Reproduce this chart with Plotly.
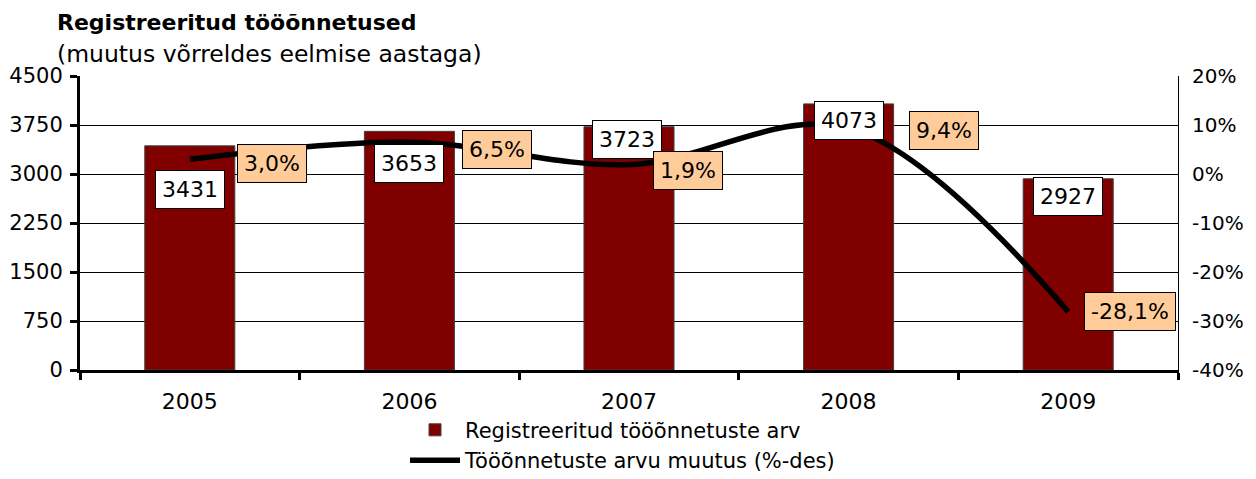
import plotly.graph_objects as go

years = ["2005", "2006", "2007", "2008", "2009"]
accidents = [3431, 3653, 3723, 4073, 2927]
change_pct = [3.0, 6.5, 1.9, 9.4, -28.1]
pct_ticks = [-40, -30, -20, -10, 0, 10, 20]
pct_tick_labels = ["-40%", "-30%", "-20%", "-10%", "0%", "10%", "20%"]

# label offsets in pixels (count labels, % labels)
count_shift = [(0, -44), (0, -32), (-2, -13), (0, -17), (0, -18)]
pct_shift = [(82, -4), (88, -7), (59, -6), (95, -3), (62, 0)]

FONT = "DejaVu Sans"
FS = 22

fig = go.Figure()

fig.add_trace(go.Bar(
    x=years, y=accidents,
    name="Registreeritud tööõnnetuste arv",
    marker=dict(color="#800000", line=dict(color="#404040", width=1)),
    yaxis="y"
))

fig.add_trace(go.Scatter(
    x=years, y=change_pct,
    name="Tööõnnetuste arvu muutus (%-des)",
    mode="lines",
    line=dict(color="black", width=5.5, shape="spline", smoothing=1.0),
    yaxis="y2"
))

annotations = []
# category index positions on the x axis
for i, (v, (dx, dy)) in enumerate(zip(accidents, count_shift)):
    annotations.append(dict(
        x=i, y=v, xref="x", yref="y", text=str(v), showarrow=False,
        xshift=dx, yshift=dy, bgcolor="white", bordercolor="black",
        borderwidth=1, borderpad=6, font=dict(family=FONT, size=FS, color="black")
    ))
for i, (v, (dx, dy)) in enumerate(zip(change_pct, pct_shift)):
    annotations.append(dict(
        x=i, y=v, xref="x", yref="y2", text=f"{v:.1f}%".replace(".", ","),
        showarrow=False, xshift=dx, yshift=dy, bgcolor="#FFCC99",
        bordercolor="black", borderwidth=1, borderpad=6,
        font=dict(family=FONT, size=FS, color="black")
    ))

# title + subtitle
annotations.append(dict(
    x=-0.0228, y=1.183, xref="paper", yref="paper", xanchor="left", yanchor="middle",
    text="<b>Registreeritud tööõnnetused</b>", showarrow=False,
    font=dict(family=FONT, size=FS, color="black")
))
annotations.append(dict(
    x=-0.0228, y=1.075, xref="paper", yref="paper", xanchor="left", yanchor="middle",
    text="(muutus võrreldes eelmise aastaga)", showarrow=False,
    font=dict(family=FONT, size=23.5, color="black")
))

# page body has an 8px margin, so the figure is sized to fit inside it
fig.update_layout(
    width=1240, height=463,
    margin=dict(l=72, r=70, t=68, b=101, autoexpand=False),
    paper_bgcolor="white", plot_bgcolor="white",
    font=dict(family=FONT, size=FS, color="black"),
    bargap=0.59,
    showlegend=True,
    legend=dict(x=0.296, y=-0.135, xanchor="left", yanchor="top",
                orientation="v", traceorder="normal", itemwidth=50,
                font=dict(family=FONT, size=21, color="black"),
                bgcolor="rgba(0,0,0,0)", tracegroupgap=0),
    xaxis=dict(
        type="category", range=[-0.5, 4.5], autorange=False, automargin=False,
        showgrid=False, tickson="boundaries", tickangle=0,
        ticks="outside", ticklen=7, tickwidth=3, tickcolor="black",
        showline=True, linecolor="black", linewidth=3,
        ticklabelstandoff=10
    ),
    yaxis=dict(
        range=[0, 4500], dtick=750, tick0=0, autorange=False, automargin=False,
        showgrid=True, gridcolor="black", gridwidth=1,
        showline=True, linecolor="black", linewidth=3,
        ticks="outside", ticklen=7, tickwidth=3, tickcolor="black",
        ticklabelstandoff=3, zeroline=False, tickfont=dict(size=21)
    ),
    yaxis2=dict(
        range=[-40, 20], tickmode="array", tickvals=pct_ticks,
        ticktext=pct_tick_labels, autorange=False, automargin=False,
        overlaying="y", side="right",
        showgrid=False, zeroline=False,
        showline=True, linecolor="black", linewidth=1,
        ticks="", ticklabelstandoff=9, tickfont=dict(size=20)
    ),
    annotations=annotations
)

fig.write_html("out.html")
